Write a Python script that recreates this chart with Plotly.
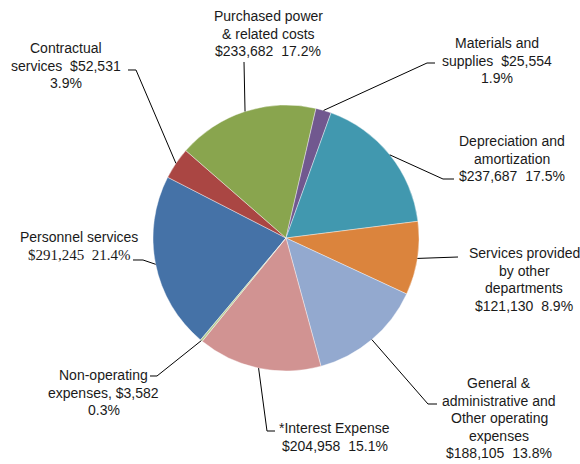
import math
import plotly.graph_objects as go

# Expense categories, in drawing order (clockwise from the first slice)
categories = [
    "Personnel services",
    "Contractual services",
    "Purchased power & related costs",
    "Materials and supplies",
    "Depreciation and amortization",
    "Services provided by other departments",
    "General & administrative and Other operating expenses",
    "*Interest Expense",
    "Non-operating expenses",
]
amounts = [291245, 52531, 233682, 25554, 237687, 121130, 188105, 204958, 3582]
percent_labels = ["21.4%", "3.9%", "17.2%", "1.9%", "17.5%", "8.9%", "13.8%", "15.1%", "0.3%"]
amount_labels = ["$291,245", "$52,531", "$233,682", "$25,554", "$237,687",
                 "$121,130", "$188,105", "$204,958", "$3,582"]

colors = ["#4572A7", "#AA4643", "#89A54E", "#71588F", "#4198AF",
          "#DB843D", "#93A9CF", "#D19392", "#B9CD96"]

W, H = 580, 464
CX, CY, R = 286, 238, 133          # pie centre and radius in pixels
ROTATION = 220                      # start angle of the first slice (deg, clockwise from top)
FONT = "Liberation Sans"
SERIF = "Liberation Serif"
FS = 14
LINE_H = 17.6

# label layout: centre x, first line y, text lines (optionally with a font), leader path after the slice edge
label_layout = [
    dict(x=79, y=237, lines=["Personnel services",
                             (f"{amount_labels[0]}  {percent_labels[0]}", SERIF, 15)],
         leader=[(143, 260), (133, 260)]),
    dict(x=65.5, y=48, lines=["Contractual", f"services  {amount_labels[1]}", percent_labels[1]],
         leader=[(136, 70), (128, 70)]),
    dict(x=268, y=16, lines=["Purchased power", "& related costs", f"{amount_labels[2]}  {percent_labels[2]}"],
         leader=[(244, 62)]),
    dict(x=496.5, y=43, lines=["Materials and", f"supplies  {amount_labels[3]}", percent_labels[3]],
         leader=[(427, 63), (435, 63)]),
    dict(x=511.5, y=141, lines=["Depreciation and", "amortization", f"{amount_labels[4]}  {percent_labels[4]}"],
         leader=[(443, 179), (454, 179)]),
    dict(x=524, y=253, lines=["Services provided", "by other", "departments",
                              f"{amount_labels[5]}  {percent_labels[5]}"],
         leader=[(458, 257)]),
    dict(x=499, y=383, lines=["General &", "administrative and", "Other operating", "expenses",
                              f"{amount_labels[6]}  {percent_labels[6]}"],
         leader=[(428, 404), (437, 404)]),
    dict(x=334.5, y=428, lines=["*Interest Expense", f"{amount_labels[7]}  {percent_labels[7]}"],
         leader=[(267, 431), (275, 431)]),
    dict(x=103.5, y=375, lines=["Non-operating", f"expenses, {amount_labels[8]}", percent_labels[8]],
         leader=[(157, 376), (150, 376)]),
]


def px(x):
    return x / W


def py(y):
    return 1 - y / H


fig = go.Figure(go.Pie(
    labels=categories,
    values=amounts,
    sort=False,
    direction="clockwise",
    rotation=ROTATION,
    marker=dict(colors=colors, line=dict(color="white", width=0.4)),
    textinfo="none",
    hoverinfo="label+value+percent",
    domain=dict(x=[px(CX - R), px(CX + R)], y=[py(CY + R), py(CY - R)]),
    showlegend=False,
))

# slice mid-angles from the data, used to anchor the leader lines on the pie edge
total = sum(amounts)
annotations, shapes = [], []
start = ROTATION
for amt, lay in zip(amounts, label_layout):
    span = 360 * amt / total
    mid = math.radians(start + span / 2)
    start += span
    ex, ey = CX + R * math.sin(mid), CY - R * math.cos(mid)
    pts = [(ex, ey)] + lay["leader"]
    path = "M " + " L ".join(f"{px(x):.5f},{py(y):.5f}" for x, y in pts)
    shapes.append(dict(type="path", path=path, xref="paper", yref="paper",
                       line=dict(color="black", width=1)))
    for i, line in enumerate(lay["lines"]):
        family, size = FONT, FS
        if isinstance(line, tuple):
            line, family, size = line
        annotations.append(dict(
            x=px(lay["x"]), y=py(lay["y"] + i * LINE_H), xref="paper", yref="paper",
            text=line, showarrow=False, xanchor="center", yanchor="middle",
            font=dict(family=family, size=size, color="#1a1a1a"),
        ))

fig.update_layout(
    width=W, height=H,
    margin=dict(l=0, r=0, t=0, b=0),
    paper_bgcolor="white",
    plot_bgcolor="white",
    annotations=annotations,
    shapes=shapes,
)

fig.write_html("out.html")
